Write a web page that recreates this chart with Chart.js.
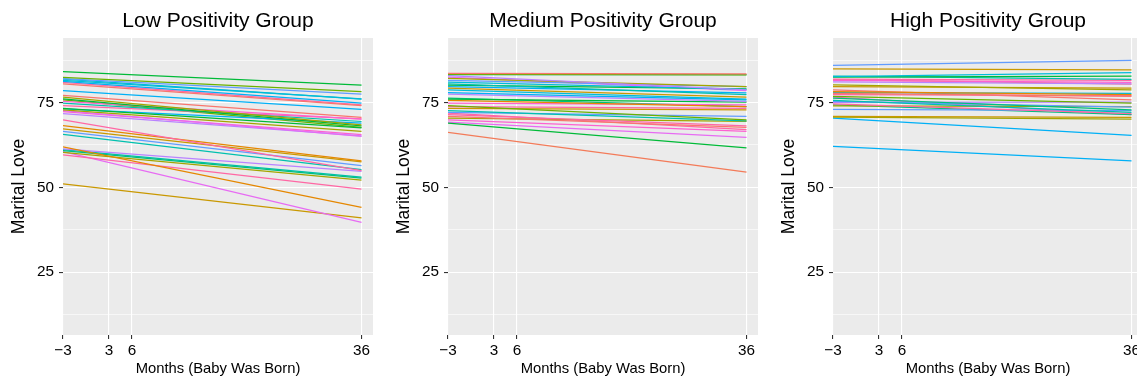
<!DOCTYPE html>
<html>
<head>
<meta charset="utf-8">
<script src="https://cdn.jsdelivr.net/npm/chart.js@4/dist/chart.umd.min.js"></script>
<style>
  html, body { margin: 0; padding: 0; background: #fff; overflow: hidden; }
  body { width: 1137px; height: 379px; position: relative; }
  .panel { position: absolute; top: 0; width: 385px; height: 379px; }
</style>
</head>
<body>
<div class="panel" style="left:0px"><canvas id="low" width="385" height="379"></canvas></div>
<div class="panel" style="left:385px"><canvas id="medium" width="385" height="379"></canvas></div>
<div class="panel" style="left:770px"><canvas id="high" width="385" height="379"></canvas></div>
<script>
const months = [-3, 36];
const xTicks = [-3, 3, 6, 36];
const yTicks = [25, 50, 75];
const yMinor = [12.5, 37.5, 62.5, 87.5];

// low positivity: value at -3 and at 36 months
const lowStart = [84.1, 82.4, 82.0, 81.5, 81.2, 80.5, 78.5, 80.9, 77.1, 76.6, 76.1, 75.3, 74.8, 73.3, 72.8, 72.6, 73.1, 71.7,
  69.9, 68.2, 67.2, 66.5, 65.6, 61.9, 61.3, 60.8, 60.3, 59.6, 60.5, 51.0, 61.1, 74.1, 72.3, 81.9, 75.8];
const lowEnd = [80.1, 78.2, 77.5, 76.1, 74.8, 74.1, 73.0, 74.3, 70.6, 68.4, 68.1, 70.1, 69.4, 67.5, 66.5, 65.0, 68.9, 65.2,
  54.9, 57.8, 57.5, 56.4, 55.2, 44.1, 54.7, 52.7, 52.1, 49.5, 39.7, 41.0, 53.0, 70.2, 65.5, 76.0, 67.7];
const lowColors = ['#00BA38', '#6BB100', '#619CFF', '#00BCD8', '#00B0F6', '#F8766D', '#00B0F6', '#FF67A4', '#F8766D', '#A3A500',
  '#00BA38', '#FD61D1', '#00C0AF', '#00BA38', '#A3A500', '#E76BF3', '#00B0F6', '#B983FF', '#FF67A4', '#E58700', '#C99800',
  '#619CFF', '#00C0AF', '#E58700', '#B983FF', '#00BF7D', '#A3A500', '#FF67A4', '#E76BF3', '#C99800', '#00C0AF', '#FF67A4',
  '#FD61D1', '#00BCD8', '#6BB100'];

// medium positivity
const medStart = [83.6, 83.3, 83.2, 82.9, 82.1, 81.5, 81.0, 80.5, 80.1, 79.2, 78.7, 77.9, 77.5, 76.0, 75.6, 74.8, 74.1, 73.8,
  73.3, 72.6, 72.1, 71.4, 70.9, 69.9, 68.9, 66.2, 69.2, 70.4, 71.9, 79.7, 82.5, 76.3];
const medEnd = [83.4, 83.1, 83.2, 78.7, 79.7, 79.7, 78.9, 77.3, 79.0, 76.6, 76.0, 75.8, 75.3, 75.1, 73.8, 74.3, 69.9, 73.3,
  72.8, 69.6, 70.9, 68.1, 67.7, 66.5, 61.6, 54.5, 64.7, 69.4, 67.0, 77.8, 78.5, 73.8];
const medColors = ['#F8766D', '#6BB100', '#00C0AF', '#B983FF', '#A3A500', '#619CFF', '#00BCD8', '#00C0AF', '#00BA38', '#C99800',
  '#00BCD8', '#00B0F6', '#B983FF', '#00BA38', '#E58700', '#FD61D1', '#6BB100', '#FF67A4', '#C99800', '#00C0AF', '#619CFF',
  '#FF67A4', '#F8766D', '#FD61D1', '#00BA38', '#F37B59', '#E76BF3', '#A3A500', '#FF67A4', '#00B0F6', '#E76BF3', '#00BF7D'];

// high positivity
const highStart = [85.9, 84.9, 82.6, 82.5, 82.8, 81.9, 81.5, 81.1, 81.7, 80.2, 79.7, 78.2, 77.7, 77.3, 77.9, 76.8, 76.3, 75.6,
  75.3, 75.0, 74.6, 74.0, 73.0, 70.9, 70.7, 70.4, 62.1, 74.3, 78.7, 76.6];
const highEnd = [87.4, 84.6, 83.8, 82.8, 81.8, 81.5, 80.9, 80.5, 80.4, 78.7, 79.2, 77.3, 76.8, 77.0, 77.7, 74.8, 72.8, 72.1,
  73.6, 75.1, 71.7, 73.8, 72.6, 70.6, 70.1, 65.3, 57.8, 71.4, 75.8, 71.4];
const highColors = ['#619CFF', '#C99800', '#00BCD8', '#00BA38', '#00C0AF', '#FF67A4', '#FD61D1', '#B983FF', '#F8766D', '#A3A500',
  '#C99800', '#E58700', '#F8766D', '#FF67A4', '#00BCD8', '#6BB100', '#00BF7D', '#00C0AF', '#619CFF', '#B983FF', '#FF67A4',
  '#A3A500', '#619CFF', '#C99800', '#A3A500', '#00B0F6', '#00B0F6', '#00BF7D', '#F8766D', '#FD61D1'];

const fontFamily = '"Liberation Sans", Arial, Helvetica, sans-serif';

const panelLook = {
  id: 'panelLook',
  beforeDraw(chart, args, opts) {
    const { ctx, chartArea: a } = chart;
    ctx.save();
    ctx.fillStyle = '#EBEBEB';
    ctx.fillRect(a.left, a.top, a.right - a.left, a.bottom - a.top);
    ctx.fillStyle = '#000';
    ctx.font = '21px ' + fontFamily;
    ctx.textAlign = 'center';
    ctx.textBaseline = 'middle';
    ctx.fillText(opts.text, (a.left + a.right) / 2, 21);
    ctx.restore();
  }
};

function isMinor(ctx) {
  return ctx.tick && yMinor.includes(ctx.tick.value);
}

function buildChart(id, title, starts, ends, colors) {
  const datasets = starts.map((s, i) => ({
    data: [{ x: months[0], y: s }, { x: months[1], y: ends[i] }],
    borderColor: colors[i],
    borderWidth: 1.25,
    pointRadius: 0,
    fill: false,
    tension: 0
  }));

  new Chart(document.getElementById(id), {
    type: 'line',
    data: { datasets },
    plugins: [panelLook],
    options: {
      responsive: false,
      animation: false,
      events: [],
      layout: { padding: { top: 38, right: 12, left: 0, bottom: 0 } },
      plugins: {
        legend: { display: false },
        tooltip: { enabled: false },
        panelLook: { text: title }
      },
      scales: {
        x: {
          type: 'linear',
          min: -3,
          max: 37.5,
          afterBuildTicks: s => { s.ticks = xTicks.map(v => ({ value: v })); },
          afterFit: s => { s.height = 44; },
          border: { display: false },
          grid: { color: '#FFFFFF', lineWidth: 1.1, tickColor: '#333333', tickLength: 4 },
          ticks: {
            autoSkip: false, maxRotation: 0, padding: 3, color: '#000',
            font: { family: fontFamily, size: 15.3 },
            callback: v => (v < 0 ? '\u2212' + Math.abs(v) : String(v))
          },
          title: {
            display: true, text: 'Months (Baby Was Born)', color: '#000',
            font: { family: fontFamily, size: 14.8 }, padding: { top: 0, bottom: 1 }
          }
        },
        y: {
          min: 6.5,
          max: 94,
          afterBuildTicks: s => {
            s.ticks = yMinor.concat(yTicks).sort((a, b) => a - b).map(v => ({ value: v }));
          },
          afterFit: s => { s.width = 63; },
          border: { display: false },
          grid: {
            color: '#FFFFFF',
            lineWidth: c => (isMinor(c) ? 0.6 : 1.1),
            tickColor: c => (isMinor(c) ? 'rgba(0,0,0,0)' : '#333333'),
            tickLength: 4
          },
          ticks: {
            autoSkip: false, padding: 5, color: '#000',
            font: { family: fontFamily, size: 15.3 },
            callback: v => (yTicks.includes(v) ? String(v) : '')
          },
          title: {
            display: true, text: 'Marital Love', color: '#000',
            font: { family: fontFamily, size: 17.5 }, padding: { top: 8.5, bottom: 0 }
          }
        }
      }
    }
  });
}

buildChart('low', 'Low Positivity Group', lowStart, lowEnd, lowColors);
buildChart('medium', 'Medium Positivity Group', medStart, medEnd, medColors);
buildChart('high', 'High Positivity Group', highStart, highEnd, highColors);
</script>
</body>
</html>
